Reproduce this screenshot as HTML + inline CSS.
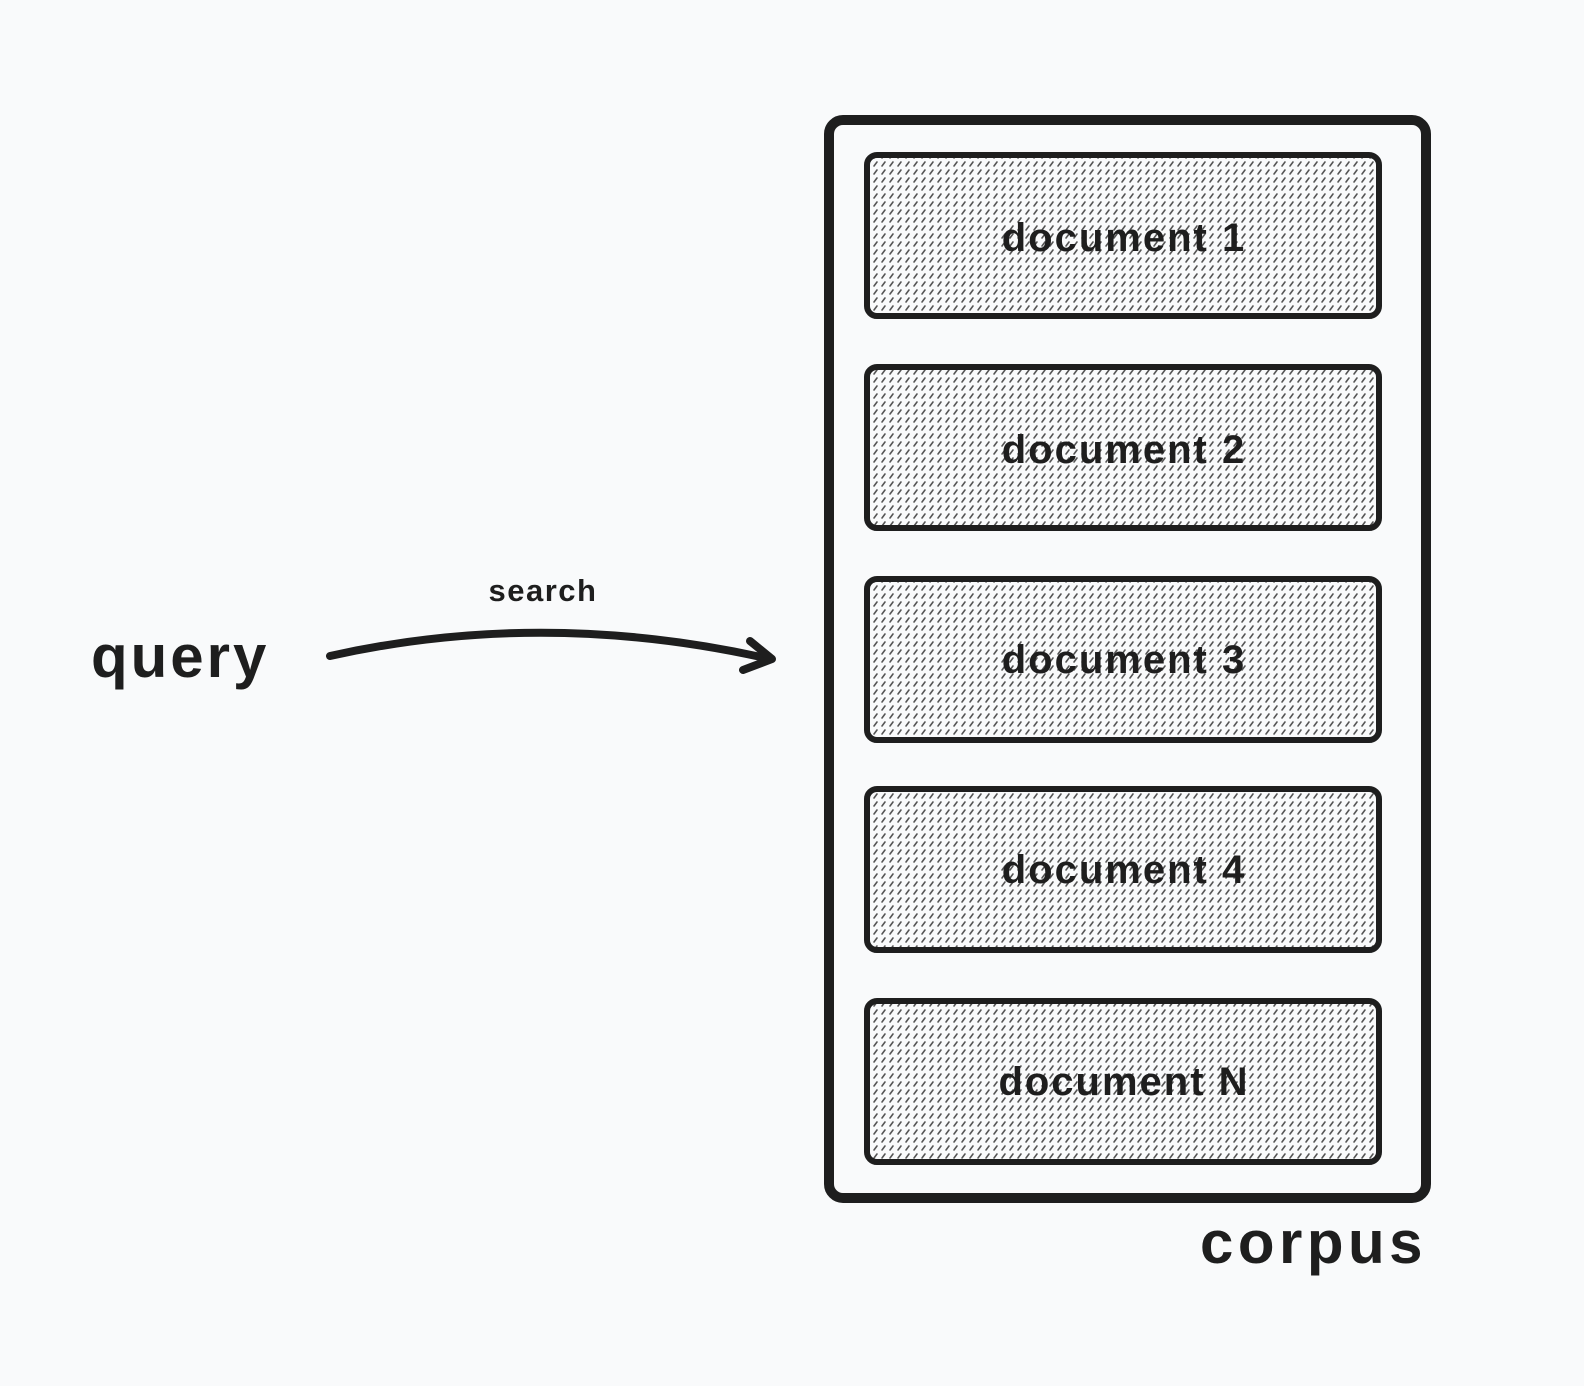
<!DOCTYPE html>
<html><head><style>
html,body{margin:0;padding:0;background:#f9fafb;}
svg{display:block}
text{font-family:"Liberation Sans",sans-serif;font-weight:bold;fill:#1e1e1e}
</style></head><body>
<svg width="1584" height="1386" viewBox="0 0 1584 1386" xmlns="http://www.w3.org/2000/svg">
<defs>
<pattern id="h" width="8" height="8" patternUnits="userSpaceOnUse">
<rect width="8" height="8" fill="#f9fafb"/>
<line x1="2" y1="6" x2="5" y2="2" stroke="#555" stroke-width="1.6" stroke-linecap="round"/>
</pattern>
</defs>
<rect x="829" y="120" width="597" height="1078" rx="14" fill="none" stroke="#1e1e1e" stroke-width="10"/>
<g stroke="#1e1e1e" stroke-width="6" fill="url(#h)">
<rect x="867" y="155" width="512" height="161" rx="10"/>
<rect x="867" y="367" width="512" height="161" rx="10"/>
<rect x="867" y="579" width="512" height="161" rx="10"/>
<rect x="867" y="789" width="512" height="161" rx="10"/>
<rect x="867" y="1001" width="512" height="161" rx="10"/>
</g>
<g font-size="40" text-anchor="middle" letter-spacing="2">
<text x="1124" y="251">document 1</text>
<text x="1124" y="463">document 2</text>
<text x="1124" y="673">document 3</text>
<text x="1124" y="883">document 4</text>
<text x="1124" y="1095">document N</text>
</g>
<text x="91" y="677" font-size="60" letter-spacing="3">query</text>
<text x="1200" y="1263" font-size="60" letter-spacing="4.5">corpus</text>
<text x="543" y="601" font-size="31" text-anchor="middle" letter-spacing="1.5">search</text>
<path d="M330 656 Q545 608 770 659" fill="none" stroke="#1e1e1e" stroke-width="8" stroke-linecap="round"/>
<path d="M750 641 L772 659 L743 670" fill="none" stroke="#1e1e1e" stroke-width="8" stroke-linecap="round" stroke-linejoin="round"/>
</svg>
</body></html>
